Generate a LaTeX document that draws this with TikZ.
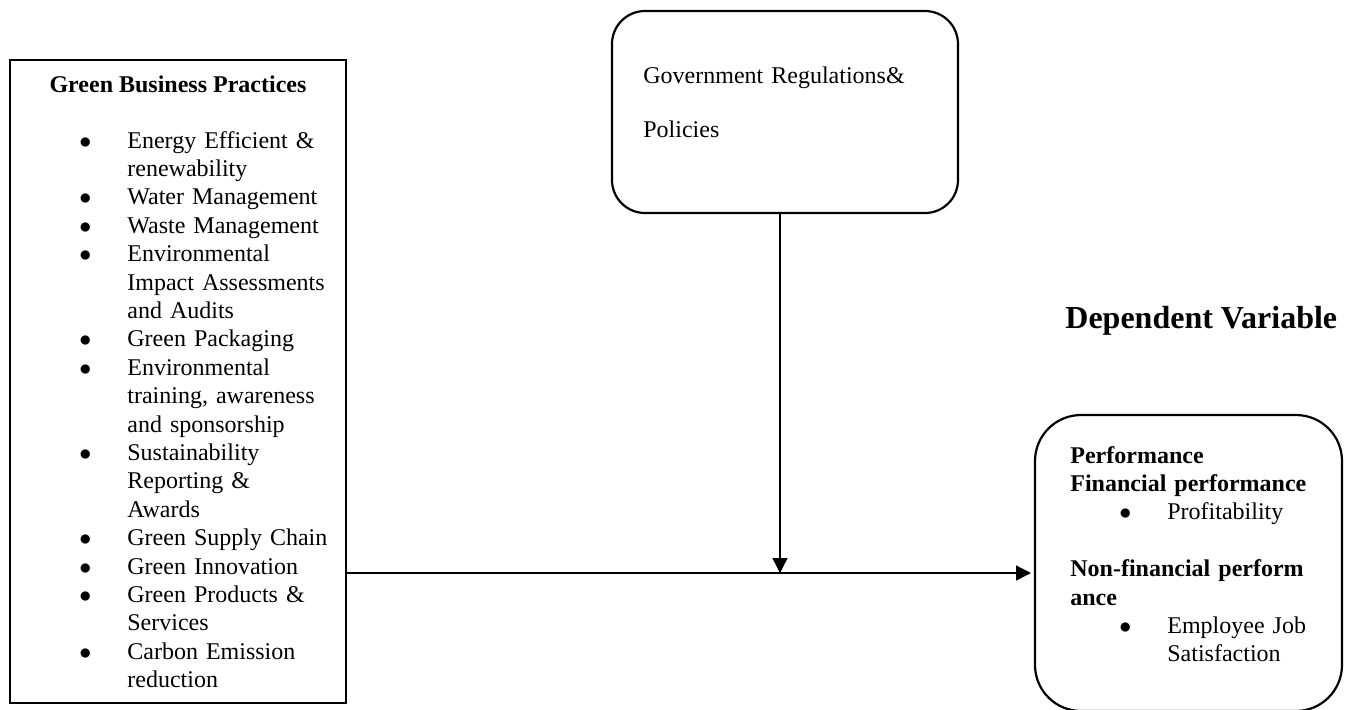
\documentclass[tikz,border=0pt]{standalone}
\usepackage{fontspec}
\setmainfont{Liberation Serif}
\usetikzlibrary{arrows.meta, positioning, calc}

% bullet item with hanging lines
\newcommand{\bulletline}[1]{\hangindent=24pt\hangafter=1\makebox[24pt][l]{$\bullet$}#1\par}

\tikzset{
	varbox/.style={draw, line width=1.1pt, inner sep=0pt, outer sep=0pt},
	txt/.style={inner sep=0pt, anchor=base west, align=left, font=\fontsize{12}{14.2}\selectfont},
	link/.style={line width=0.7pt, -{Triangle[length=7.5pt,width=7.5pt]}}
}

\begin{document}
\begin{tikzpicture}[x=0.5pt, y=-0.5pt]
		
		\useasboundingbox (0,0) rectangle (1357,709);
		
		% Boxes
		\node[varbox, minimum width=168pt, minimum height=321.5pt] (gbp) at (178,381.5) {};
		\node[varbox, rounded corners=16.5pt, minimum width=173pt, minimum height=101pt] (gov) at (785,112) {};
		\node[varbox, rounded corners=23pt, minimum width=153.5pt, minimum height=148pt] (perf) at (1188.5,563) {};
		
		% Independent variable
		\node[txt, anchor=base, font=\fontsize{12}{14.2}\selectfont\bfseries] (gbptitle) at (178,92) {Green Business Practices};
		\node[txt, text width=140pt] (gbplist) at (79,148) {%
			\bulletline{Energy Efficient \&\newline renewability}
			\bulletline{Water Management}
			\bulletline{Waste Management}
			\bulletline{Environmental\newline Impact Assessments\newline and Audits}
			\bulletline{Green Packaging}
			\bulletline{Environmental\newline training, awareness\newline and sponsorship}
			\bulletline{Sustainability\newline Reporting \&\newline Awards}
			\bulletline{Green Supply Chain}
			\bulletline{Green Innovation}
			\bulletline{Green Products \&\newline Services}
			\bulletline{Carbon Emission\newline reduction}};
		
		% Moderator
		\node[txt, text width=160pt, font=\fontsize{12}{27}\selectfont] (govtxt) at (643,83) {Government Regulations\&\\Policies};
		
		% Dependent variable
		\node[txt, font=\fontsize{16}{19}\selectfont\bfseries] (dep) at (1065,328) {Dependent Variable};
		\node[txt, text width=140pt] (perftxt) at (1070,463) {%
			\textbf{Performance}\\
			\textbf{Financial performance}\par
			\hspace*{24.5pt}\bulletline{Profitability}
			\mbox{}\par
			\textbf{Non-financial perform}\\
			\textbf{ance}\par
			\hangindent=48.5pt\hangafter=1\hspace*{24.5pt}\makebox[24pt][l]{$\bullet$}Employee Job\newline Satisfaction\par};
		
		% Arrows
		\coordinate (jn) at (780,573);
		\draw[link] (gov.south -| jn) -- (jn);
		\draw[link, shorten >=2pt] (gbp.east |- jn) -- (perf.west |- jn);
		
	\end{tikzpicture}
\end{document}
